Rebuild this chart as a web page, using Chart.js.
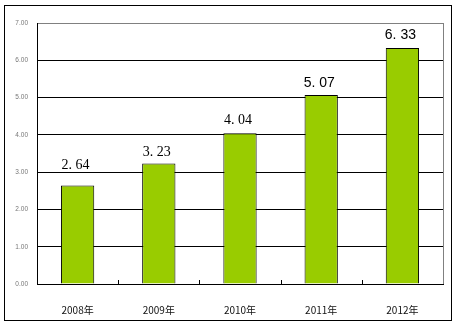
<!DOCTYPE html>
<html>
<head>
<meta charset="utf-8">
<script src="https://cdn.jsdelivr.net/npm/chart.js@4/dist/chart.umd.min.js"></script>
<style>
  html, body { margin: 0; padding: 0; background: #fff; }
  #wrap { width: 457px; height: 327px; }
</style>
</head>
<body>
<div id="wrap"><canvas id="barChart" width="457" height="327"></canvas></div>
<script>
// données
const years = ["2008年", "2009年", "2010年", "2011年", "2012年"];
const values = [2.64, 3.23, 4.04, 5.07, 6.33];
const yTicks = [0, 1, 2, 3, 4, 5, 6, 7];

// cadre extérieur, bord droit gris, petites graduations vers l'intérieur
const framePlugin = {
    id: "frame",
    afterDraw(chart) {
        const c = chart.ctx;
        const a = chart.chartArea;
        c.save();
        c.lineWidth = 1;
        c.strokeStyle = "#000";
        c.strokeRect(4.5, 5.5, 447, 315);
        c.strokeStyle = "#808080";
        c.beginPath();
        c.moveTo(Math.round(a.right) + 0.5, a.top);
        c.lineTo(Math.round(a.right) + 0.5, a.bottom);
        c.stroke();
        // graduations de l'axe x entre les catégories
        c.strokeStyle = "#000";
        const step = (a.right - a.left) / years.length;
        for (let i = 1; i < years.length; i++) {
            const px = Math.round(a.left + step * i) + 0.5;
            c.beginPath();
            c.moveTo(px, a.bottom - 4);
            c.lineTo(px, a.bottom);
            c.stroke();
        }
        c.restore();
    }
};

// étiquettes de valeur au-dessus des barres
const labelPlugin = {
    id: "valueLabels",
    afterDatasetsDraw(chart) {
        const c = chart.ctx;
        const meta = chart.getDatasetMeta(0);
        const lift = [17, 8, 9, 8, 9];
        c.save();
        c.textAlign = "center";
        c.textBaseline = "alphabetic";
        c.fillStyle = "#000";
        meta.data.forEach(function (bar, i) {
            const txt = values[i].toFixed(2).replace(".", ". ");
            if (i < 3) {
                c.font = "14px 'Liberation Serif', serif";
            } else {
                c.font = "14px 'Liberation Sans', Arial, sans-serif";
            }
            c.fillText(txt, bar.x - 2, bar.y - lift[i]);
        });
        c.restore();
    }
};

new Chart(document.getElementById("barChart"), {
    type: "bar",
    data: {
        labels: years,
        datasets: [{
            data: values,
            backgroundColor: "#99CC00",
            borderColor: "#000",
            borderWidth: 1,
            borderSkipped: "bottom",
            barPercentage: 0.41,
            categoryPercentage: 1.0
        }]
    },
    options: {
        responsive: false,
        animation: false,
        devicePixelRatio: 1,
        layout: { padding: { left: 0, top: 23, right: 14, bottom: 0 } },
        plugins: {
            legend: { display: false },
            tooltip: { enabled: false }
        },
        scales: {
            x: {
                grid: { display: false },
                border: { color: "#000", width: 1 },
                ticks: {
                    color: "#111",
                    padding: 12,
                    font: { size: 10, family: "'Noto Sans CJK SC', 'Liberation Sans', sans-serif" }
                },
                afterFit(scale) { scale.height = 43; }
            },
            y: {
                min: 0,
                max: 7,
                afterBuildTicks(scale) {
                    scale.ticks = yTicks.map(function (v) { return { value: v }; });
                },
                grid: {
                    drawTicks: false,
                    color(ctx) { return ctx.tick && ctx.tick.value === 7 ? "#808080" : "#000"; }
                },
                border: { color: "#000", width: 1 },
                ticks: {
                    color: "#777",
                    padding: 9,
                    font: { size: 6.5, family: "'Liberation Sans', sans-serif" },
                    callback(v) { return Number(v).toFixed(2); }
                },
                afterFit(scale) { scale.width = 37; }
            }
        }
    },
    plugins: [framePlugin, labelPlugin]
});
</script>
</body>
</html>
